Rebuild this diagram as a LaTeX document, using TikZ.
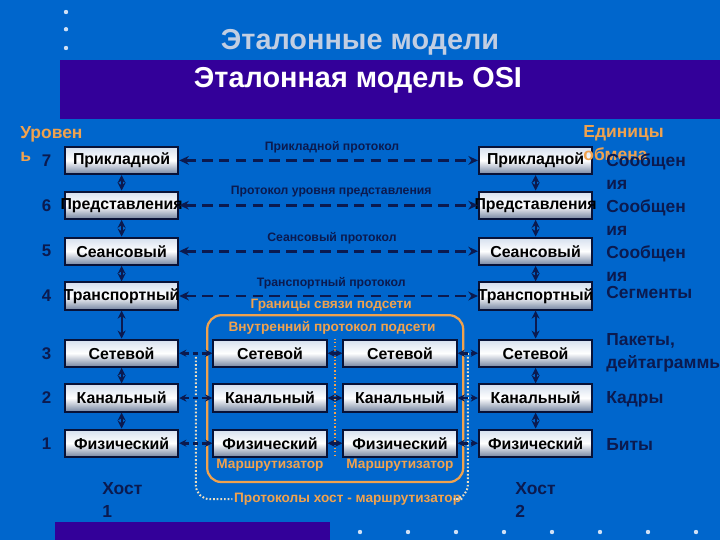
\documentclass[tikz,border=0pt]{standalone}
\usepackage{fontspec}
\setmainfont{Liberation Sans}
\usepackage{xcolor}
\usepackage{tikz}
\usetikzlibrary{arrows.meta,positioning,calc}
\definecolor{fondo}{HTML}{0066CC}
\definecolor{morado}{HTML}{330099}
\definecolor{marino}{HTML}{0B1A4F}
\definecolor{naranja}{HTML}{F0A24E}
\definecolor{grisazul}{HTML}{C2CEE2}
\definecolor{punto}{HTML}{CFE0F5}
\definecolor{cajaclara}{HTML}{D5DFEE}
\definecolor{cajaoscura}{HTML}{7686A2}
\definecolor{crema}{HTML}{EEDFC2}
\tikzset{
  caja/.style={draw=marino!70!black,line width=1.5pt,top color=cajaclara,bottom color=cajaoscura,middle color=white,minimum width=28.3mm,minimum height=6.8mm,inner sep=0pt,font=\fontsize{11.3}{13}\selectfont\bfseries,execute at begin node={\hbox to 0pt\bgroup\hss},execute at end node={\hss\egroup}},
  titulo/.style={font=\fontsize{20.5}{24}\selectfont\bfseries,inner sep=0pt},
  numero/.style={font=\fontsize{12}{14}\selectfont\bfseries,text=marino,inner sep=0pt},
  unidad/.style={font=\fontsize{12.4}{16.3}\selectfont\bfseries,text=marino,align=left,inner sep=0pt,anchor=west},
  rotulo/.style={unidad,text=naranja},
  etiqueta/.style={font=\fontsize{8.7}{10}\selectfont\bfseries,text=marino,inner sep=0pt},
  etiquetan/.style={font=\fontsize{9.7}{11}\selectfont\bfseries,text=naranja,inner sep=1pt},
  zona/.style={draw=naranja,line width=1.6pt,rounded corners=10pt},
  limite/.style={draw=crema,line width=1.4pt,dash pattern=on 1.2pt off 1.4pt,rounded corners=10pt},
  divisor/.style={draw=naranja,line width=0.9pt,dash pattern=on 1pt off 1.5pt},
  flechap/.style={{Stealth[length=2.4mm,width=2.2mm]}-{Stealth[length=2.4mm,width=2.2mm]},line width=2pt,marino,dash pattern=on 7.5pt off 4.5pt},
  flechac/.style={{Stealth[length=1.8mm,width=1.8mm]}-{Stealth[length=1.8mm,width=1.8mm]},line width=2pt,marino,dash pattern=on 4pt off 2.5pt},
  flechav/.style={{Stealth[length=2mm,width=2mm]}-{Stealth[length=2mm,width=2mm]},line width=1.4pt,marino},
}

\begin{document}
\begin{tikzpicture}
  \fill[fondo] (0,0) rectangle (18,-13.5);
  \useasboundingbox (0,0) rectangle (18,-13.5);
  \fill[morado] (1.5,-1.5) rectangle (18,-2.975);
  \fill[morado] (1.375,-13.05) rectangle (8.25,-13.5);
  \foreach \y in {-0.3,-0.73,-1.2} \fill[punto] (1.65,\y) circle (0.055);
  \foreach \x in {9.0,10.2,...,17.4} \fill[punto] (\x,-13.3) circle (0.055);

  \node[titulo,text=grisazul] (tit1) at (9.0,-1.05) {Эталонные модели};
  \node[titulo,text=white] (tit2) at (8.95,-2.0) {Эталонная модель OSI};

  % хост 1
  \node[caja] (izq7) at (3.04,-4.01) {Прикладной};
  \node[caja] (izq6) at (3.04,-5.13) {Представления};
  \node[caja] (izq5) at (3.04,-6.28) {Сеансовый};
  \node[caja] (izq4) at (3.04,-7.40) {Транспортный};
  \node[caja] (izq3) at (3.04,-8.83) {Сетевой};
  \node[caja] (izq2) at (3.04,-9.95) {Канальный};
  \node[caja] (izq1) at (3.04,-11.08) {Физический};
  \node[numero,left=3.1mm of izq7] (n7) {7};
  \node[numero,left=3.1mm of izq6] (n6) {6};
  \node[numero,left=3.1mm of izq5] (n5) {5};
  \node[numero,left=3.1mm of izq4] (n4) {4};
  \node[numero,left=3.1mm of izq3] (n3) {3};
  \node[numero,left=3.1mm of izq2] (n2) {2};
  \node[numero,left=3.1mm of izq1] (n1) {1};
  \node[rotulo] (niv) at (0.5,-3.6) {Уровен\\ь};
  \node[unidad] (host1) at (2.55,-12.49) {Хост\\1};

  % хост 2
  \node[caja] (der7) at (13.39,-4.01) {Прикладной};
  \node[caja] (der6) at (13.39,-5.13) {Представления};
  \node[caja] (der5) at (13.39,-6.28) {Сеансовый};
  \node[caja] (der4) at (13.39,-7.40) {Транспортный};
  \node[caja] (der3) at (13.39,-8.83) {Сетевой};
  \node[caja] (der2) at (13.39,-9.95) {Канальный};
  \node[caja] (der1) at (13.39,-11.08) {Физический};
  \node[rotulo] (unid) at (14.58,-3.58) {Единицы\\обмена};
  \node[unidad] (u7) at (15.15,-4.29) {Сообщен\\ия};
  \node[unidad] (u6) at (15.15,-5.44) {Сообщен\\ия};
  \node[unidad] (u5) at (15.15,-6.58) {Сообщен\\ия};
  \node[unidad] (u4) at (15.15,-7.3) {Сегменты};
  \node[unidad] (u3) at (15.15,-8.81) {Пакеты,\\дейтаграммы};
  \node[unidad] (u2) at (15.15,-9.98) {Кадры};
  \node[unidad] (u1) at (15.15,-11.1) {Биты};
  \node[unidad] (host2) at (12.88,-12.49) {Хост\\2};

  % маршрутизаторы
  \node[caja] (ra3) at (6.75,-8.83) {Сетевой};
  \node[caja] (ra2) at (6.75,-9.95) {Канальный};
  \node[caja] (ra1) at (6.75,-11.08) {Физический};
  \node[caja] (rb3) at (10.0,-8.83) {Сетевой};
  \node[caja] (rb2) at (10.0,-9.95) {Канальный};
  \node[caja] (rb1) at (10.0,-11.08) {Физический};
  \node[etiquetan,below=0pt of ra1] (era) {Маршрутизатор};
  \node[etiquetan,below=0pt of rb1] (erb) {Маршрутизатор};
  \draw[zona] (5.18,-7.88) rectangle (11.58,-12.05);
  \draw[divisor] ($(ra3.north east)!.5!(rb3.north west)$) -- ($(ra1.south east)!.5!(rb1.south west)$);
  \node[etiquetan] (interno) at (8.3,-8.2) {Внутренний протокол подсети};
  \node[etiquetan] (frontera) at (8.28,-7.63) {Границы связи подсети};
  \node[etiquetan] (hostrout) at (8.69,-12.48) {Протоколы хост - маршрутизатор};
  \draw[limite] ($(izq3.east)!.5!(ra3.west)$) |- (hostrout.west);
  \draw[limite] ($(rb3.east)!.5!(der3.west)$) |- (hostrout.east);

  % протоколы
  \draw[flechap] (izq7.east) -- (der7.west);
  \draw[flechap] (izq6.east) -- (der6.west);
  \draw[flechap] (izq5.east) -- (der5.west);
  \draw[flechap] (izq4.east) -- (der4.west);
  \node[etiqueta] (p7) at (8.3,-3.68) {Прикладной протокол};
  \node[etiqueta] (p6) at (8.28,-4.8) {Протокол уровня представления};
  \node[etiqueta] (p5) at (8.3,-5.95) {Сеансовый протокол};
  \node[etiqueta] (p4) at (8.28,-7.08) {Транспортный протокол};
  \foreach \a/\b in {7/6,6/5,5/4,4/3,3/2,2/1} {
    \draw[flechav] (izq\a) -- (izq\b);
    \draw[flechav] (der\a) -- (der\b);
  }
  \foreach \n in {1,2,3} {
    \draw[flechac] (izq\n) -- (ra\n);
    \draw[flechac] (ra\n) -- (rb\n);
    \draw[flechac] (rb\n) -- (der\n);
  }
\end{tikzpicture}
\end{document}
